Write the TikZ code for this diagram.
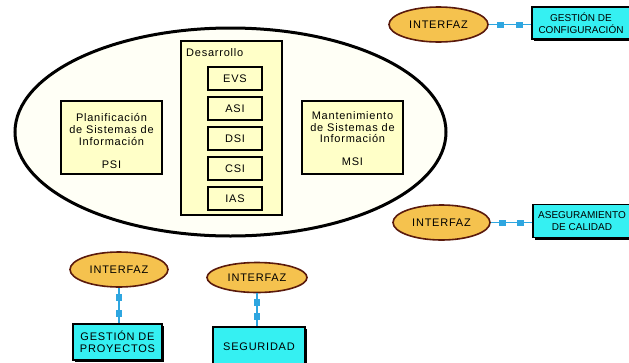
\documentclass[tikz,border=0pt]{standalone}
\usepackage{fontspec}
\setmainfont[LetterSpace=7]{Liberation Sans}
\usetikzlibrary{shapes.geometric,shadows,decorations.markings}
\definecolor{cream}{HTML}{FFFFC8}
\definecolor{pale}{HTML}{FFFFF6}
\definecolor{orng}{HTML}{F5C24E}
\definecolor{brwn}{HTML}{5A1A0C}
\definecolor{cyanbox}{HTML}{35F0F2}
\definecolor{lnk}{HTML}{2EA6E0}
\begin{document}
\begin{tikzpicture}[x=1pt,y=-1pt,
  font=\fontsize{11}{11.7}\selectfont,
  bigell/.style={ellipse,draw=black,line width=3pt,fill=pale,minimum width=431pt,minimum height=208pt,inner sep=0pt},
  ybox/.style={rectangle,draw=black,line width=1.4pt,fill=cream,inner sep=0pt,
    drop shadow={shadow xshift=1.2pt,shadow yshift=-1.2pt,fill=gray!60,opacity=1}},
  ibox/.style={ybox,minimum width=54pt,minimum height=23pt},
  txt/.style={align=center,inner sep=0pt},
  iface/.style={ellipse,draw=brwn,line width=1.6pt,fill=orng,inner sep=0pt,minimum width=99pt,minimum height=35pt},
  cbox/.style={rectangle,draw=black,line width=1.6pt,fill=cyanbox,align=center,inner sep=0pt,
    font=\fontsize{11}{12}\selectfont,
    drop shadow={shadow xshift=2pt,shadow yshift=-2pt,fill=black,opacity=1}},
  tight/.style={font=\fontsize{10}{11.5}\selectfont\addfontfeatures{LetterSpace=0}},
  conn/.style={draw=lnk,line width=1.8pt,postaction={decorate,decoration={markings,
    mark=at position 0.28 with {\fill[lnk] (-3.5pt,-3pt) rectangle (3.5pt,3pt);},
    mark=at position 0.72 with {\fill[lnk] (-3.5pt,-3pt) rectangle (3.5pt,3pt);}}}}
]
\useasboundingbox (0,0) rectangle (629,362);

% main cycle
\node[bigell] (ciclo) at (230.5,132) {};

\node[ybox,minimum width=101pt,minimum height=73pt] (psi) at (111.5,137.5) {};
\node[txt] (psit) at (111.5,141) {Planificación\\de Sistemas de\\Información\\[11pt]PSI};

\node[ybox,minimum width=101pt,minimum height=73pt] (msi) at (352.5,137.5) {};
\node[txt] (msit) at (352.5,138.5) {Mantenimiento\\de Sistemas de\\Información\\[11pt]MSI};

\node[ybox,minimum width=101pt,minimum height=174pt] (des) at (231.5,128) {};
\node[anchor=west,inner sep=0pt] (desl) at (186,53) {Desarrollo};
\node[ibox] (evs) at (235,78.5) {EVS};
\node[ibox] (asi) at (235,108.5) {ASI};
\node[ibox] (dsi) at (235,138.3) {DSI};
\node[ibox] (csi) at (235,168.3) {CSI};
\node[ibox] (ias) at (235,198.3) {IAS};

% interfaces
\node[iface] (i1) at (438.5,24.5) {INTERFAZ};
\node[iface,minimum width=97pt] (i2) at (441.5,222.5) {INTERFAZ};
\node[iface,minimum width=98pt] (i3) at (119,269.5) {INTERFAZ};
\node[iface,minimum width=100pt,minimum height=30pt] (i4) at (257,277.5) {INTERFAZ};

\node[cbox,tight,minimum width=98pt,minimum height=32pt] (g1) at (581,23) {GESTIÓN DE\\CONFIGURACIÓN};
\node[cbox,tight,minimum width=98pt,minimum height=33pt] (g2) at (582,221) {ASEGURAMIENTO\\DE CALIDAD};
\node[cbox,minimum width=89pt,minimum height=36pt] (g3) at (117.5,342) {GESTIÓN DE\\PROYECTOS};
\node[cbox,minimum width=92pt,minimum height=40pt] (g4) at (259,347) {SEGURIDAD};

\draw[conn] (i1.east) -- (i1.east -| g1.west);
\draw[conn] (i2.east) -- (i2.east -| g2.west);
\draw[conn] (i3.south) -- (i3.south |- g3.north);
\draw[conn] (i4.south) -- (i4.south |- g4.north);
\end{tikzpicture}
\end{document}
